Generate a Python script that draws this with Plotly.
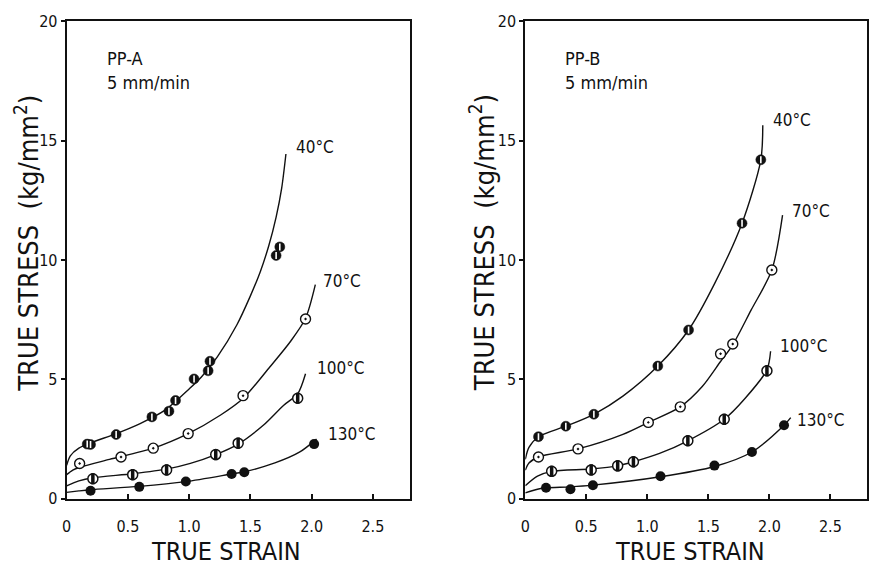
import plotly.graph_objects as go

W, H = 869, 569

# ---------------- data: PP-A (left panel) ----------------
a40_strain = [0.168, 0.195, 0.404, 0.696, 0.835, 0.889, 1.04, 1.155, 1.17, 1.71, 1.74]
a40_stress = [2.29, 2.27, 2.69, 3.43, 3.67, 4.12, 5.02, 5.36, 5.76, 10.19, 10.55]
a40_curve_x = [0.0, 0.03, 0.1, 0.2, 0.4, 0.6, 0.8, 1.0, 1.1, 1.23, 1.39, 1.5, 1.58, 1.65, 1.71, 1.755, 1.79]
a40_curve_y = [1.4, 1.8, 2.12, 2.35, 2.72, 3.15, 3.7, 4.6, 5.1, 5.94, 7.29, 8.5, 9.5, 10.6, 11.8, 13.0, 14.44]

a70_strain = [0.106, 0.444, 0.707, 0.992, 1.44, 1.95]
a70_stress = [1.48, 1.75, 2.12, 2.73, 4.32, 7.53]
a70_curve_x = [0.0, 0.05, 0.106, 0.35, 0.707, 0.992, 1.257, 1.44, 1.66, 1.83, 1.95, 2.03]
a70_curve_y = [1.01, 1.2, 1.32, 1.65, 2.12, 2.73, 3.51, 4.2, 5.53, 6.61, 7.56, 8.97]

a100_strain = [0.214, 0.539, 0.816, 1.217, 1.40, 1.886]
a100_stress = [0.84, 1.01, 1.21, 1.85, 2.33, 4.21]
a100_curve_x = [0.0, 0.1, 0.214, 0.539, 0.816, 1.01, 1.217, 1.40, 1.61, 1.77, 1.886, 1.95]
a100_curve_y = [0.54, 0.75, 0.88, 1.05, 1.24, 1.48, 1.85, 2.29, 3.1, 3.91, 4.4, 5.24]

a130_strain = [0.195, 0.593, 0.973, 1.347, 1.45, 2.02]
a130_stress = [0.34, 0.50, 0.72, 1.04, 1.11, 2.29]
a130_curve_x = [0.0, 0.1, 0.195, 0.593, 0.973, 1.347, 1.45, 1.7, 1.9, 2.04]
a130_curve_y = [0.27, 0.33, 0.38, 0.52, 0.72, 1.04, 1.13, 1.5, 1.95, 2.5]

# ---------------- data: PP-B (right panel) ----------------
b40_strain = [0.108, 0.332, 0.562, 1.086, 1.338, 1.776, 1.93]
b40_stress = [2.60, 3.04, 3.54, 5.56, 7.07, 11.54, 14.2]
b40_curve_x = [0.0, 0.03, 0.108, 0.332, 0.562, 0.8, 1.086, 1.338, 1.55, 1.776, 1.93, 1.946]
b40_curve_y = [1.65, 2.15, 2.6, 3.04, 3.54, 4.3, 5.56, 7.07, 9.0, 11.54, 14.2, 15.65]

b70_strain = [0.108, 0.432, 1.008, 1.27, 1.6, 1.70, 2.02]
b70_stress = [1.75, 2.09, 3.20, 3.85, 6.07, 6.48, 9.58]
b70_curve_x = [0.0, 0.03, 0.108, 0.432, 0.8, 1.008, 1.27, 1.45, 1.6, 1.70, 1.85, 2.02, 2.108]
b70_curve_y = [1.2, 1.5, 1.75, 2.09, 2.7, 3.2, 3.85, 4.7, 5.75, 6.45, 7.9, 9.58, 11.88]

b100_strain = [0.216, 0.54, 0.757, 0.886, 1.332, 1.63, 1.98]
b100_stress = [1.15, 1.21, 1.38, 1.55, 2.43, 3.33, 5.36]
b100_curve_x = [0.0, 0.1, 0.216, 0.54, 0.757, 0.886, 1.1, 1.332, 1.63, 1.8, 1.98, 2.01]
b100_curve_y = [0.55, 0.95, 1.15, 1.25, 1.38, 1.55, 1.9, 2.43, 3.33, 4.2, 5.4, 6.18]

b130_strain = [0.17, 0.37, 0.554, 1.108, 1.55, 1.857, 2.12]
b130_stress = [0.46, 0.40, 0.57, 0.94, 1.39, 1.96, 3.08]
b130_curve_x = [0.0, 0.1, 0.17, 0.37, 0.554, 1.108, 1.55, 1.857, 2.12, 2.175]
b130_curve_y = [0.25, 0.4, 0.46, 0.5, 0.57, 0.92, 1.35, 1.96, 3.08, 3.4]

x_tickvals = [0, 0.5, 1.0, 1.5, 2.0, 2.5]
x_ticktext = ["0", "0.5", "1.0", "1.5", "2.0", "2.5"]
y_tickvals = [0, 5, 10, 15, 20]
y_ticktext = ["0", "5", "10", "15", "20"]
temps = ["40°C", "70°C", "100°C", "130°C"]

FONT = "DejaVu Sans Condensed, Liberation Sans Narrow, DejaVu Sans, sans-serif"
BLACK = "#111111"

fig = go.Figure()


def add_panel(xa, ya, curves, points):
    for cx, cy in curves:
        fig.add_trace(go.Scatter(x=cx, y=cy, mode="lines", xaxis=xa, yaxis=ya,
                                 line=dict(color=BLACK, width=1.4, shape="spline", smoothing=0.8),
                                 hoverinfo="skip", showlegend=False))
    (p40x, p40y), (p70x, p70y), (p100x, p100y), (p130x, p130y) = points
    # 40 C: black circle with a white slit
    fig.add_trace(go.Scatter(x=p40x, y=p40y, mode="markers", xaxis=xa, yaxis=ya,
                             marker=dict(symbol="circle", size=10, color=BLACK,
                                         line=dict(color=BLACK, width=0.5)),
                             showlegend=False))
    fig.add_trace(go.Scatter(x=p40x, y=p40y, mode="markers", xaxis=xa, yaxis=ya,
                             marker=dict(symbol="line-ns-open", size=5, color="white",
                                         line=dict(color="white", width=1.6)),
                             showlegend=False))
    # 70 C: open circle with dot
    fig.add_trace(go.Scatter(x=p70x, y=p70y, mode="markers", xaxis=xa, yaxis=ya,
                             marker=dict(symbol="circle-dot", size=10, color="white",
                                         line=dict(color=BLACK, width=1.4)),
                             showlegend=False))
    # 100 C: open circle with a black vertical half bar
    fig.add_trace(go.Scatter(x=p100x, y=p100y, mode="markers", xaxis=xa, yaxis=ya,
                             marker=dict(symbol="circle", size=10, color="white",
                                         line=dict(color=BLACK, width=1.5)),
                             showlegend=False))
    fig.add_trace(go.Scatter(x=p100x, y=p100y, mode="markers", xaxis=xa, yaxis=ya,
                             marker=dict(symbol="line-ns-open", size=8, color=BLACK,
                                         line=dict(color=BLACK, width=3.5)),
                             showlegend=False))
    # 130 C: filled circle
    fig.add_trace(go.Scatter(x=p130x, y=p130y, mode="markers", xaxis=xa, yaxis=ya,
                             marker=dict(symbol="circle", size=10, color=BLACK),
                             showlegend=False))


add_panel("x", "y",
          [(a40_curve_x, a40_curve_y), (a70_curve_x, a70_curve_y),
           (a100_curve_x, a100_curve_y), (a130_curve_x, a130_curve_y)],
          [(a40_strain, a40_stress), (a70_strain, a70_stress),
           (a100_strain, a100_stress), (a130_strain, a130_stress)])
add_panel("x2", "y2",
          [(b40_curve_x, b40_curve_y), (b70_curve_x, b70_curve_y),
           (b100_curve_x, b100_curve_y), (b130_curve_x, b130_curve_y)],
          [(b40_strain, b40_stress), (b70_strain, b70_stress),
           (b100_strain, b100_stress), (b130_strain, b130_stress)])

ydom = [(H - 506.7) / H, (H - 12.7) / H]
xcommon = dict(range=[0, 2.8], tickvals=x_tickvals, ticktext=x_ticktext,
               ticks="inside", ticklen=5, tickwidth=1.5, tickcolor=BLACK,
               showline=True, linecolor=BLACK, linewidth=2, mirror=True,
               showgrid=False, zeroline=False, ticklabelstandoff=12,
               tickfont=dict(family=FONT, size=16, color=BLACK))
ycommon = dict(range=[0, 20], tickvals=y_tickvals, ticktext=y_ticktext,
               ticks="outside", ticklen=4, tickwidth=1.5, tickcolor=BLACK,
               showline=True, linecolor=BLACK, linewidth=2, mirror=True,
               showgrid=False, zeroline=False,
               tickfont=dict(family=FONT, size=16, color=BLACK), domain=ydom)

fig.update_layout(
    width=W, height=H,
    margin=dict(l=0, r=0, t=0, b=0),
    paper_bgcolor="white", plot_bgcolor="white",
    xaxis=dict(domain=[62 / W, 407 / W], anchor="y", **xcommon),
    yaxis=dict(anchor="x", **ycommon),
    xaxis2=dict(domain=[523.3 / W, 867 / W], anchor="y2", **xcommon),
    yaxis2=dict(anchor="x2", **ycommon),
    showlegend=False,
)

ann = []
# axis titles
for cx in [222.5, 689]:
    ann.append(dict(text="TRUE STRAIN", x=cx / W, y=(H - 561) / H, xref="paper", yref="paper",
                    showarrow=False, xanchor="center", yanchor="middle",
                    font=dict(family=FONT, size=25, color=BLACK)))
for cx in [22, 480]:
    ann.append(dict(text="TRUE STRESS  (kg/mm<sup>2</sup>)", x=cx / W, y=(H - 242) / H,
                    xref="paper", yref="paper", textangle=-90,
                    showarrow=False, xanchor="center", yanchor="middle",
                    font=dict(family=FONT, size=27, color=BLACK)))

# panel labels
for xr, yr, name in [("x", "y", "PP-A"), ("x2", "y2", "PP-B")]:
    ann.append(dict(text=name, x=0.31, y=18.45, xref=xr, yref=yr, showarrow=False,
                    xanchor="left", yanchor="middle", font=dict(family=FONT, size=18, color=BLACK)))
    ann.append(dict(text="5 mm/min", x=0.31, y=17.45, xref=xr, yref=yr, showarrow=False,
                    xanchor="left", yanchor="middle", font=dict(family=FONT, size=18, color=BLACK)))

left_lab = [(1.854, 14.75), (2.08, 9.11), (2.03, 5.47), (2.12, 2.70)]
right_lab = [(2.01, 15.85), (2.17, 12.05), (2.07, 6.41), (2.21, 3.31)]
for (lx, ly), t in zip(left_lab, temps):
    ann.append(dict(text=t, x=lx, y=ly, xref="x", yref="y", showarrow=False,
                    xanchor="left", yanchor="middle", font=dict(family=FONT, size=17, color=BLACK)))
for (lx, ly), t in zip(right_lab, temps):
    ann.append(dict(text=t, x=lx, y=ly, xref="x2", yref="y2", showarrow=False,
                    xanchor="left", yanchor="middle", font=dict(family=FONT, size=17, color=BLACK)))

fig.update_layout(annotations=ann)
fig.write_html("out.html")
